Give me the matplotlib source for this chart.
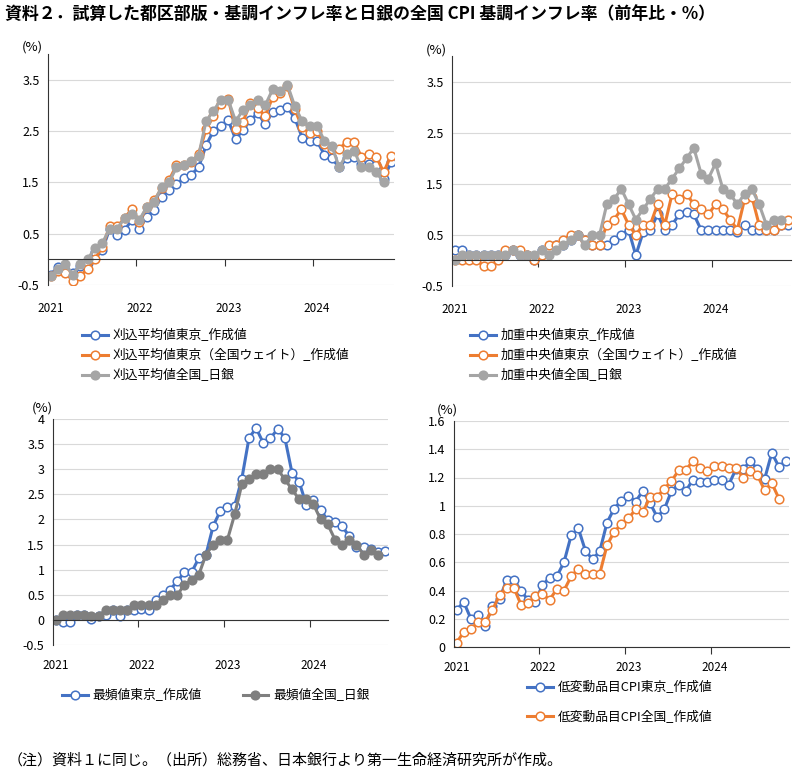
import numpy as np
import matplotlib
matplotlib.use("Agg")
import matplotlib.pyplot as plt
from matplotlib.lines import Line2D
from matplotlib.ticker import FuncFormatter

plt.rcParams['font.family'] = ['Noto Sans CJK JP', 'DejaVu Sans']

nan = np.nan

# Monthly data, Jan 2021 - Nov 2024 (national series end Oct 2024)
years = ["2021", "2022", "2023", "2024"]

# panel 1: trimmed mean
trim_tokyo = [-0.30, -0.15, -0.20, -0.27, -0.13, -0.07, 0.15, 0.19, 0.60, 0.48, 0.57, 0.77,
              0.60, 0.83, 0.96, 1.22, 1.36, 1.46, 1.58, 1.65, 1.79, 2.22, 2.50, 2.60,
              2.71, 2.34, 2.52, 2.71, 2.85, 2.63, 2.87, 2.91, 2.96, 2.75, 2.37, 2.30,
              2.30, 2.04, 1.97, 1.79, 1.97, 1.99, 1.86, 1.86, 1.83, 1.57, 1.89]
trim_tokyo_nw = [-0.33, -0.23, -0.26, -0.42, -0.32, -0.19, 0.00, 0.25, 0.65, 0.64, 0.80, 0.99,
                 0.73, 1.02, 1.15, 1.38, 1.54, 1.83, 1.83, 1.89, 2.05, 2.53, 2.79, 3.02,
                 3.13, 2.53, 2.68, 3.05, 2.94, 2.79, 3.16, 3.25, 3.37, 2.92, 2.57, 2.47,
                 2.50, 2.24, 2.15, 2.15, 2.29, 2.29, 2.00, 2.05, 2.00, 1.70, 2.02]
trim_boj = [-0.33, -0.19, -0.10, -0.30, -0.10, 0.00, 0.22, 0.32, 0.60, 0.60, 0.80, 0.89,
            0.77, 1.02, 1.12, 1.41, 1.50, 1.79, 1.83, 1.92, 2.02, 2.69, 2.89, 3.11,
            3.11, 2.69, 2.91, 3.00, 3.11, 3.00, 3.31, 3.27, 3.40, 2.98, 2.69, 2.60,
            2.60, 2.31, 2.21, 1.79, 2.05, 2.12, 1.79, 1.79, 1.70, 1.50, nan]

# panel 2: weighted median
med_tokyo = [0.2, 0.2, 0.1, 0.1, 0.1, 0.1, 0.1, 0.1, 0.2, 0.1, 0.1, 0.0,
             0.2, 0.2, 0.3, 0.3, 0.4, 0.5, 0.4, 0.3, 0.3, 0.3, 0.4, 0.5,
             0.6, 0.1, 0.55, 0.6, 0.9, 0.6, 0.7, 0.9, 0.95, 0.9, 0.6, 0.6,
             0.6, 0.6, 0.6, 0.55, 0.7, 0.6, 0.6, 0.6, 0.6, 0.7, 0.7]
med_tokyo_nw = [0.0, 0.0, 0.0, 0.0, -0.1, -0.1, 0.0, 0.2, 0.2, 0.2, 0.1, 0.0,
                0.1, 0.3, 0.3, 0.4, 0.5, 0.5, 0.4, 0.3, 0.3, 0.7, 0.8, 1.0,
                0.7, 0.5, 0.7, 0.7, 1.1, 0.7, 1.3, 1.2, 1.3, 1.1, 1.0, 0.9,
                1.1, 1.0, 0.8, 0.6, 1.2, 1.25, 0.7, 0.6, 0.6, 0.7, 0.8]
med_boj = [0.0, 0.1, 0.1, 0.1, 0.1, 0.1, 0.1, 0.1, 0.2, 0.1, 0.1, 0.1,
           0.2, 0.1, 0.2, 0.3, 0.4, 0.5, 0.3, 0.5, 0.5, 1.1, 1.2, 1.4,
           1.1, 0.8, 1.0, 1.2, 1.4, 1.4, 1.6, 1.8, 2.0, 2.2, 1.7, 1.6,
           1.9, 1.4, 1.3, 1.1, 1.3, 1.4, 1.1, 0.7, 0.8, 0.8, nan]

# panel 3: mode
mode_tokyo = [0.0, -0.05, -0.05, 0.1, 0.1, 0.02, 0.08, 0.1, 0.2, 0.08, 0.2, 0.2,
              0.22, 0.2, 0.4, 0.5, 0.6, 0.77, 0.95, 0.95, 1.23, 1.3, 1.87, 2.17,
              2.24, 2.27, 2.81, 3.62, 3.82, 3.52, 3.62, 3.80, 3.63, 2.93, 2.75, 2.29,
              2.39, 2.19, 1.98, 1.94, 1.86, 1.67, 1.46, 1.45, 1.42, 1.36, 1.38]
mode_boj = [0.0, 0.1, 0.1, 0.1, 0.1, 0.08, 0.08, 0.2, 0.2, 0.2, 0.2, 0.3,
            0.3, 0.3, 0.3, 0.4, 0.5, 0.5, 0.7, 0.8, 0.9, 1.3, 1.5, 1.6,
            1.6, 2.1, 2.7, 2.8, 2.9, 2.9, 3.0, 3.0, 2.8, 2.6, 2.4, 2.4,
            2.3, 2.0, 1.9, 1.6, 1.5, 1.6, 1.5, 1.3, 1.4, 1.3, nan]

# panel 4: low-volatility items CPI
lowvol_tokyo = [0.26, 0.32, 0.20, 0.23, 0.15, 0.29, 0.34, 0.475, 0.475, 0.40, 0.33, 0.32,
                0.44, 0.49, 0.50, 0.60, 0.79, 0.84, 0.68, 0.62, 0.68, 0.88, 0.98, 1.035,
                1.07, 1.03, 1.105, 1.02, 0.92, 0.975, 1.105, 1.15, 1.105, 1.185, 1.17, 1.17,
                1.185, 1.185, 1.15, 1.26, 1.26, 1.315, 1.26, 1.19, 1.375, 1.275, 1.32]
lowvol_nat = [0.03, 0.105, 0.125, 0.18, 0.18, 0.26, 0.365, 0.42, 0.42, 0.30, 0.315, 0.36,
              0.375, 0.335, 0.41, 0.40, 0.50, 0.555, 0.52, 0.52, 0.52, 0.72, 0.815, 0.87,
              0.91, 0.975, 0.955, 1.06, 1.065, 1.12, 1.175, 1.25, 1.25, 1.32, 1.27, 1.245,
              1.28, 1.28, 1.265, 1.27, 1.20, 1.245, 1.215, 1.11, 1.16, 1.05, nan]

BLUE = '#4472C4'
ORANGE = '#ED7D31'
GRAY = '#A5A5A5'
DGRAY = '#7F7F7F'

W, H = 800, 782
fig = plt.figure(figsize=(W / 100, H / 100), dpi=100)


def px_axes(l, t, r, b):
    return fig.add_axes([l / W, 1 - b / H, (r - l) / W, (b - t) / H])


def style(ax, ylim, yticks, n, zero_axis, pct_off, label_off):
    ax.set_xlim(-0.35, n - 0.6)
    ax.set_ylim(*ylim)
    ax.set_yticks(yticks)
    ax.yaxis.set_major_formatter(FuncFormatter(lambda v, p: '{:g}'.format(round(v, 2))))
    ax.grid(axis='y', color='#D9D9D9', lw=0.8)
    ax.set_axisbelow(True)
    for s in ['top', 'right']:
        ax.spines[s].set_visible(False)
    ax.spines['left'].set_color('#333333')
    ax.spines['bottom'].set_color('#333333')
    if zero_axis:
        ax.spines['bottom'].set_position(('data', 0))
    ax.tick_params(axis='y', length=0, labelsize=9, pad=6)
    ax.set_xticks([12 * k - 0.5 for k in range(1, len(years))])
    ax.set_xticklabels([])
    ax.tick_params(axis='x', length=5, width=0.8, color='#333333', direction='out')
    for k, y in enumerate(years):
        ax.annotate(y, xy=(12 * k, 0), xycoords=('data', 'axes fraction'),
                    xytext=(0, -label_off), textcoords='offset points',
                    ha='center', va='top', fontsize=8.5)
    ax.annotate('(%)', xy=(0, 1), xycoords='axes fraction', xytext=pct_off,
                textcoords='offset points', ha='center', va='center', fontsize=9.5)


def draw(ax, y, color, filled):
    x = np.arange(len(y))
    ax.plot(x, y, color=color, lw=2.2, marker='o', ms=6.2,
            mfc=color if filled else 'white', mec=color, mew=1.1)


def legend(ax, labels, colors, filled, anchor, ncol=1, spacing=0.55, colsp=2.0):
    handles = [Line2D([], [], color=c, lw=2.2, marker='o', ms=6.2,
                      mfc=c if f else 'white', mec=c, mew=1.1)
               for c, f in zip(colors, filled)]
    ax.legend(handles, labels, loc='upper left',
              bbox_to_anchor=(anchor[0] / W, 1 - anchor[1] / H),
              bbox_transform=fig.transFigure, frameon=False, fontsize=9.2,
              handlelength=2.0, handletextpad=0.4, borderpad=0, borderaxespad=0,
              labelspacing=spacing, ncol=ncol, columnspacing=colsp)


n = len(trim_tokyo)

# panel 1
ax1 = px_axes(48, 54, 394, 285)
draw(ax1, trim_tokyo, BLUE, False)
draw(ax1, trim_tokyo_nw, ORANGE, False)
draw(ax1, trim_boj, GRAY, True)
style(ax1, (-0.5, 4.0), [-0.5, 0.5, 1.5, 2.5, 3.5], n, True, (-11, 5), 12)
legend(ax1, ['刈込平均値東京_作成値', '刈込平均値東京（全国ウェイト）_作成値', '刈込平均値全国_日銀'],
       [BLUE, ORANGE, GRAY], [False, False, True], (82, 329))

# panel 2
ax2 = px_axes(452, 56, 791, 286)
draw(ax2, med_tokyo, BLUE, False)
draw(ax2, med_tokyo_nw, ORANGE, False)
draw(ax2, med_boj, GRAY, True)
style(ax2, (-0.5, 4.0), [-0.5, 0.5, 1.5, 2.5, 3.5], n, True, (-11, 4), 12)
legend(ax2, ['加重中央値東京_作成値', '加重中央値東京（全国ウェイト）_作成値', '加重中央値全国_日銀'],
       [BLUE, ORANGE, GRAY], [False, False, True], (470, 329))

# panel 3
ax3 = px_axes(53, 419, 388, 645)
draw(ax3, mode_tokyo, BLUE, False)
draw(ax3, mode_boj, DGRAY, True)
style(ax3, (-0.5, 4.0), np.arange(-0.5, 4.01, 0.5), n, True, (-8, 8), 10)
legend(ax3, ['最頻値東京_作成値', '最頻値全国_日銀'], [BLUE, DGRAY], [False, True],
       (62, 689), ncol=2, colsp=3.2)

# panel 4
ax4 = px_axes(454, 421, 789, 647)
draw(ax4, lowvol_tokyo, BLUE, False)
draw(ax4, lowvol_nat, ORANGE, False)
style(ax4, (0, 1.6), np.arange(0, 1.61, 0.2), n, False, (-5, 8), 10)
legend(ax4, ['低変動品目CPI東京_作成値', '低変動品目CPI全国_作成値'], [BLUE, ORANGE],
       [False, False], (527, 681), spacing=1.3)

fig.text(5 / W, 1 - 14 / H,
         '資料２．試算した都区部版・基調インフレ率と日銀の全国 CPI 基調インフレ率（前年比・%）',
         fontsize=12.2, fontweight='bold', va='center', ha='left')
fig.text(8 / W, 1 - 760 / H,
         '（注）資料１に同じ。（出所）総務省、日本銀行より第一生命経済研究所が作成。',
         fontsize=10.8, va='center', ha='left')

fig.savefig('out.png', dpi=100)
